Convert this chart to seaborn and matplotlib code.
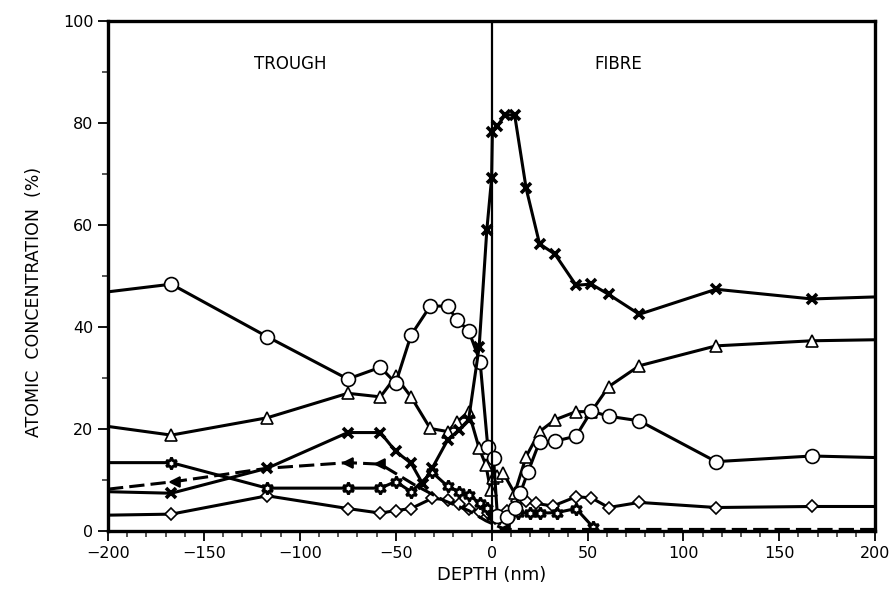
import numpy as np
import pandas as pd
import seaborn as sns
import matplotlib.pyplot as plt
from matplotlib.ticker import MultipleLocator

# depth profiles
cross_depth = [-200, -167, -117, -75, -58, -50, -42, -36, -31, -23, -17, -12, -6.5, -2.5, 0, 0.4, 3, 7, 12, 18, 25, 33, 44, 52, 61, 77, 117, 167, 200]
cross_conc = [7.7, 7.4, 12.3, 19.3, 19.3, 15.6, 13.3, 9.3, 12.3, 17.8, 19.8, 21.8, 36.1, 59.0, 69.2, 78.3, 79.4, 81.6, 81.6, 67.2, 56.3, 54.3, 48.2, 48.4, 46.4, 42.5, 47.4, 45.5, 45.9]

circ_depth = [-200, -167, -117, -75, -58, -50, -42, -32, -23, -18, -12, -6, -2, 1, 3, 8, 12, 15, 19, 25, 33, 44, 52, 61, 77, 117, 167, 200]
circ_conc = [46.9, 48.4, 38.1, 29.8, 32.1, 29.0, 38.4, 44.1, 44.1, 41.4, 39.3, 33.2, 16.5, 14.4, 3.0, 2.8, 4.5, 7.5, 11.6, 17.5, 17.6, 18.6, 23.5, 22.5, 21.6, 13.6, 14.7, 14.4]

tri_depth = [-200, -167, -117, -75, -58, -50, -42, -32, -23, -18, -12, -6.5, -3, -0.5, 0.5, 3, 6, 12, 18, 25, 33, 44, 52, 61, 77, 117, 167, 200]
tri_conc = [20.5, 18.8, 22.2, 27.0, 26.3, 30.3, 26.3, 20.1, 19.5, 21.4, 23.4, 16.2, 12.9, 8.0, 10.3, 10.7, 11.4, 7.4, 14.6, 19.5, 21.8, 23.4, 23.4, 28.3, 32.4, 36.3, 37.3, 37.5]

dia_depth = [-200, -167, -117, -75, -58, -50, -42, -31, -23, -17, -12, -6, -2, 2, 8, 13, 18, 23, 32, 44, 52, 61, 77, 117, 167, 200]
dia_conc = [3.1, 3.3, 6.9, 4.4, 3.5, 4.0, 4.4, 6.4, 6.1, 5.3, 4.4, 3.8, 3.5, 2.5, 4.0, 5.8, 5.8, 5.4, 4.9, 6.7, 6.5, 4.6, 5.6, 4.6, 4.8, 4.8]

star_depth = [-200, -167, -117, -75, -58, -50, -42, -31, -23, -17, -12, -6, -2.5, 0, 4, 9, 14, 20, 25, 34, 44, 53]
star_conc = [13.4, 13.4, 8.4, 8.4, 8.4, 9.7, 7.7, 11.5, 8.8, 7.7, 7.1, 5.4, 4.5, 3.0, 2.5, 3.0, 3.5, 3.5, 3.5, 3.6, 4.4, 0.7]

arrow_depth = [-200, -165, -117, -75, -58, -40, -25, -12, -3, 7, 200]
arrow_conc = [8.2, 9.7, 12.3, 13.4, 13.1, 9.0, 6.0, 4.0, 2.0, 0.3, 0.3]

sns.set_style("ticks")
plt.rcParams['font.family'] = ['DejaVu Sans']
plt.rcParams['text.color'] = 'black'
plt.rcParams['axes.labelcolor'] = 'black'

fig = plt.figure(figsize=(8.89, 6.02), dpi=100)
ax = fig.add_axes([0.1215, 0.118, 0.863, 0.847])

def draw(xs, ys, marker, ms, every=None, ls='-', face='white', mew=1.2):
    n = len(xs)
    if every is None:
        every = list(range(1, n - 1))
    sns.lineplot(x=xs, y=ys, sort=False, estimator=None, ax=ax, color='black',
                 linewidth=2.2, linestyle=ls, marker=marker, markersize=ms,
                 markerfacecolor=face, markeredgecolor='black',
                 markeredgewidth=mew, markevery=every)

draw(dia_depth, dia_conc, 'D', 6)
draw(star_depth, star_conc, (6, 1, 0), 8.5, every=list(range(1, len(star_depth))), mew=2.0)
draw(arrow_depth, arrow_conc, '<', 7, every=[1, 3, 4, 9], ls=(0, (5, 2)), face='black')
draw(tri_depth, tri_conc, '^', 9)
draw(circ_depth, circ_conc, 'o', 10)
draw(cross_depth, cross_conc, 'x', 7, mew=2.6)

ax.axvline(0, color='black', lw=1.6)

ax.set_xlim(-200, 200)
ax.set_ylim(0, 100)
ax.xaxis.set_major_locator(MultipleLocator(50))
ax.xaxis.set_minor_locator(MultipleLocator(10))
ax.yaxis.set_major_locator(MultipleLocator(20))
ax.yaxis.set_minor_locator(MultipleLocator(10))
ax.tick_params(which='major', direction='out', length=7, width=1.3, labelsize=11.5, colors='black')
ax.tick_params(which='minor', direction='out', length=4, width=1.1)
for s in ax.spines.values():
    s.set_linewidth(2.4)
    s.set_color('black')

ax.text(-105, 91.5, 'TROUGH', ha='center', va='center', fontsize=12)
ax.text(66, 91.5, 'FIBRE', ha='center', va='center', fontsize=12)

ax.set_xlabel('DEPTH (nm)', fontsize=13, labelpad=4)
ax.set_ylabel('ATOMIC  CONCENTRATION  (%)', fontsize=12.5)
ax.yaxis.set_label_coords(-0.085, 0.45)

fig.savefig('out.png', dpi=100)
